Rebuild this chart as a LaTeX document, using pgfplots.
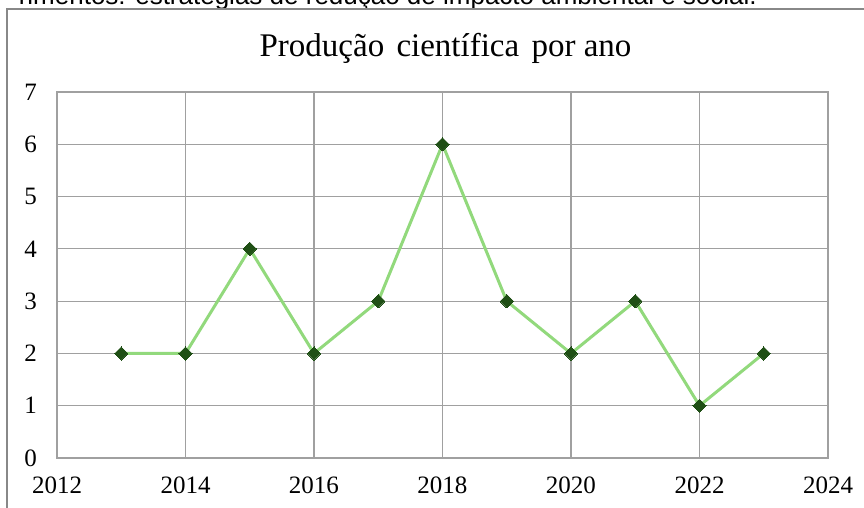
\documentclass[border=0pt]{standalone}
\usepackage{fontspec}
\setmainfont{Liberation Serif}
\newfontfamily\arial{Liberation Sans}
\usepackage{pgfplots}
\pgfplotsset{compat=1.18}
\definecolor{gridgray}{HTML}{A0A0A0}
\definecolor{framegray}{HTML}{888888}
\definecolor{linegreen}{HTML}{92D97C}
\definecolor{markgreen}{HTML}{1F4F15}
\begin{document}
\begin{tikzpicture}[x=1pt,y=1pt]
\useasboundingbox (0,0) rectangle (864,507);
\clip (0,0) rectangle (864,507);
\node[anchor=base east, inner sep=0pt, font=\arial\fontsize{26}{30}\selectfont] at (757,502) {rimentos: estratégias de redução de impacto ambiental e social.};
\draw[framegray, line width=1.2pt] (7,-10) -- (7,498) -- (880,498);
\node[anchor=base, inner sep=0pt, font=\fontsize{33}{38}\selectfont] at (445.5,450) {Produção\hspace{4pt} científica\hspace{4pt} por ano};
\begin{axis}[
  at={(57pt,49pt)}, anchor=south west,
  scale only axis, width=771pt, height=366pt,
  xmin=2012, xmax=2024, ymin=0, ymax=7,
  xtick={2012,2014,...,2024}, ytick={0,1,...,7},
  major tick length=0pt,
  grid=major,
  grid style={gridgray, line width=1.1pt},
  axis line style={gridgray, line width=1.1pt},
  /pgf/number format/assume math mode=true,
  /pgf/number format/1000 sep={},
  tick label style={font=\fontsize{25}{29}\selectfont, inner sep=0pt},
  xticklabel style={yshift=-19pt},
  yticklabel style={xshift=-20pt},
  clip=false,
]
\addplot[linegreen, line width=3pt, mark=square*, mark size=4.7pt,
  mark options={fill=markgreen, draw=markgreen, line width=0pt, rotate=45}]
  coordinates {(2013,2) (2014,2) (2015,4) (2016,2) (2017,3) (2018,6) (2019,3) (2020,2) (2021,3) (2022,1) (2023,2)};
\end{axis}
\end{tikzpicture}
\end{document}
